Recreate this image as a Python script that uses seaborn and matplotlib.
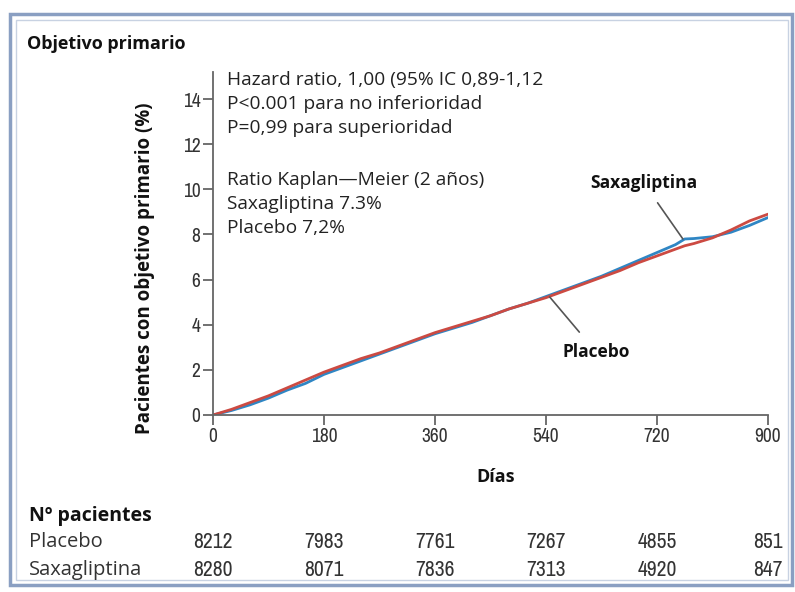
import matplotlib
matplotlib.use("Agg")
import matplotlib.pyplot as plt
import matplotlib.patches as patches
import matplotlib.transforms as mtransforms
import numpy as np
import pandas as pd
import seaborn as sns

# ---- data ----
days = [0, 30, 60, 90, 120, 150, 180, 210, 240, 270, 300, 330, 360, 390, 420, 450,
        480, 510, 540, 570, 600, 630, 660, 690, 720, 750, 765, 780, 810, 840, 870, 900]
saxa = [0.0, 0.2, 0.45, 0.75, 1.1, 1.4, 1.8, 2.1, 2.4, 2.7, 3.0, 3.3, 3.6, 3.85, 4.1, 4.4,
        4.7, 4.95, 5.25, 5.55, 5.85, 6.15, 6.5, 6.85, 7.2, 7.55, 7.8, 7.82, 7.9, 8.1, 8.4, 8.75]
placebo = [0.0, 0.25, 0.55, 0.85, 1.2, 1.55, 1.9, 2.2, 2.5, 2.75, 3.05, 3.35, 3.65, 3.9, 4.15, 4.4,
           4.7, 4.95, 5.2, 5.5, 5.8, 6.1, 6.4, 6.75, 7.05, 7.35, 7.5, 7.6, 7.85, 8.2, 8.6, 8.9]
x_ticks = [0, 180, 360, 540, 720, 900]
y_ticks = [0, 2, 4, 6, 8, 10, 12, 14]
n_placebo = [8212, 7983, 7761, 7267, 4855, 851]
n_saxa = [8280, 8071, 7836, 7313, 4920, 847]

sns.set_style("white")
plt.rcParams['font.family'] = ['Open Sans', 'DejaVu Sans']
narrow = ['Archivo Narrow', 'Open Sans', 'DejaVu Sans']

fig = plt.figure(figsize=(7.95, 5.92), dpi=100)
ax = fig.add_axes([213/795, 1-415/592, (768-213)/795, (415-72)/592])

df = pd.DataFrame({
    "Días": days * 2,
    "val": saxa + placebo,
    "grupo": ["Saxagliptina"] * len(days) + ["Placebo"] * len(days),
})
sns.lineplot(data=df, x="Días", y="val", hue="grupo",
             palette={"Saxagliptina": "#2f86c4", "Placebo": "#cc4a42"},
             linewidth=2.0, legend=False, ax=ax, estimator=None)

ax.set_xlim(0, 900)
ax.set_ylim(0, 15.2)
ax.set_xticks(x_ticks)
ax.set_yticks(y_ticks)
ax.set_xticklabels([str(t) for t in x_ticks], fontsize=14, color="#333333", family=narrow)
ax.set_yticklabels([str(t) for t in y_ticks], fontsize=14, color="#333333", family=narrow)
for s in ["top", "right"]:
    ax.spines[s].set_visible(False)
for s in ["left", "bottom"]:
    ax.spines[s].set_color("#666666")
    ax.spines[s].set_linewidth(1.3)
ax.tick_params(axis="both", direction="out", length=7, width=1.3, color="#666666", pad=2,
               bottom=True, left=True)
ax.set_xlabel("Días", fontsize=13, fontweight="bold", color="#111111")
ax.set_ylabel("Pacientes con objetivo primario (%)", fontsize=13.5, fontweight="bold",
              color="#111111")
ax.yaxis.set_label_coords((155-213)/555, (415-268)/343)
ax.xaxis.set_label_coords((496-213)/555, (415-468)/343)

# annotations
lines = ["Hazard ratio, 1,00 (95% IC 0,89-1,12", "P<0.001 para no inferioridad",
         "P=0,99 para superioridad", "", "Ratio Kaplan\u2014Meier (2 años)",
         "Saxagliptina 7.3%", "Placebo 7,2%"]
ys = [80, 104, 128, 154, 180, 204, 228]
for t, yy in zip(lines, ys):
    if t:
        fig.text(227/795, 1-yy/592, t, fontsize=13.8, color="#222222", va="center", ha="left")

ax.annotate("Saxagliptina", xy=(762, 7.8), xytext=(698, 10.3), fontsize=12.5,
            fontweight="bold", ha="center", va="center", color="#111111",
            arrowprops=dict(arrowstyle="-", color="#555555", lw=1.2, shrinkA=7, shrinkB=0))
ax.annotate("Placebo", xy=(546, 5.23), xytext=(621, 2.8), fontsize=12.5,
            fontweight="bold", ha="center", va="center", color="#111111",
            arrowprops=dict(arrowstyle="-", color="#555555", lw=1.2, shrinkA=7, shrinkB=0))

fig.text(27/795, 1-44/592, "Objetivo primario", fontsize=13, fontweight="bold",
         va="center", ha="left", color="#111111")

# table of patients
trans = mtransforms.blended_transform_factory(ax.transData, fig.transFigure)
fig.text(29/795, 1-516/592, "Nº pacientes", fontsize=14, fontweight="bold",
         va="center", ha="left", color="#111111")
fig.text(29/795, 1-542/592, "Placebo", fontsize=14.5, va="center", ha="left", color="#333333")
fig.text(29/795, 1-570/592, "Saxagliptina", fontsize=14.5, va="center", ha="left", color="#333333")
for xt, a, b in zip(x_ticks, n_placebo, n_saxa):
    ax.text(xt, 1-542/592, str(a), transform=trans, fontsize=15.5, ha="center",
            va="center", color="#333333", clip_on=False, family=narrow)
    ax.text(xt, 1-570/592, str(b), transform=trans, fontsize=15.5, ha="center",
            va="center", color="#333333", clip_on=False, family=narrow)

# frame
fig.patches.append(patches.Rectangle((10/795, 1-585/592), 782/795, 571/592,
                                     transform=fig.transFigure, fill=False,
                                     edgecolor="#8a9fc2", linewidth=2.5))
fig.patches.append(patches.Rectangle((16/795, 1-580/592), 772/795, 560/592,
                                     transform=fig.transFigure, fill=False,
                                     edgecolor="#c8d2e2", linewidth=1.0))

fig.savefig("out.png", dpi=100)
